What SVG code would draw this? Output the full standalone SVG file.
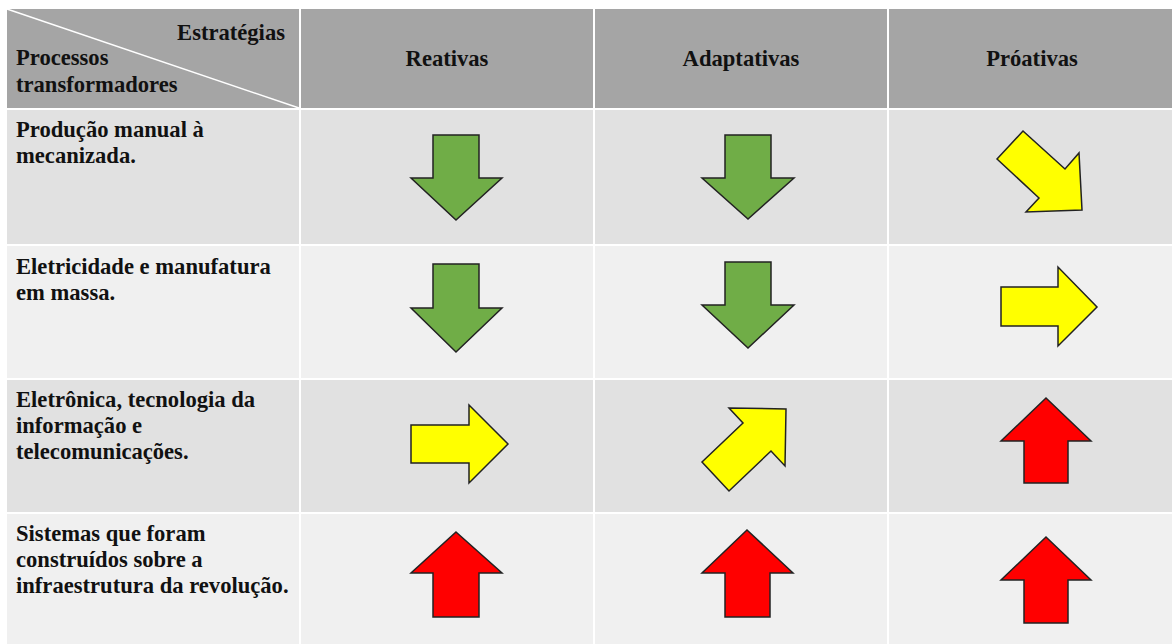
<svg xmlns="http://www.w3.org/2000/svg" width="1172" height="644" viewBox="0 0 1172 644">
<style>
text{font-family:"Liberation Serif","Times New Roman",serif;font-weight:bold;font-size:22.6px;fill:#111}
.hd{fill:#a5a5a5}.d{fill:#e1e1e1}.l{fill:#f0f0f0}
.c{text-anchor:middle}
.ar{stroke:#222;stroke-width:1.5;stroke-linejoin:miter}
.g{fill:#70ad47}.y{fill:#ffff00}.r{fill:#ff0000}
</style>
<rect width="1172" height="644" fill="#ffffff"/>
<g id="header">
<rect class="hd" x="7" y="9" width="292" height="99"/>
<rect class="hd" x="301" y="9" width="292" height="99"/>
<rect class="hd" x="595" y="9" width="292" height="99"/>
<rect class="hd" x="889" y="9" width="283" height="99"/>
<line x1="7" y1="9" x2="299" y2="108" stroke="#ffffff" stroke-width="1.5"/>
<text x="285" y="40" text-anchor="end">Estratégias</text>
<text x="16" y="65">Processos</text>
<text x="16" y="92">transformadores</text>
<text class="c" x="447" y="66">Reativas</text>
<text class="c" x="741" y="66">Adaptativas</text>
<text class="c" x="1032" y="66">Próativas</text>
</g>
<g id="row1">
<rect class="d" x="7" y="110" width="292" height="134"/>
<rect class="d" x="301" y="110" width="292" height="134"/>
<rect class="d" x="595" y="110" width="292" height="134"/>
<rect class="d" x="889" y="110" width="283" height="134"/>
<text x="16" y="137">Produção manual à</text>
<text x="16" y="163">mecanizada.</text>
</g>
<g id="row2">
<rect class="l" x="7" y="246" width="292" height="132"/>
<rect class="l" x="301" y="246" width="292" height="132"/>
<rect class="l" x="595" y="246" width="292" height="132"/>
<rect class="l" x="889" y="246" width="283" height="132"/>
<text x="16" y="274">Eletricidade e manufatura</text>
<text x="16" y="300">em massa.</text>
</g>
<g id="row3">
<rect class="d" x="7" y="380" width="292" height="132"/>
<rect class="d" x="301" y="380" width="292" height="132"/>
<rect class="d" x="595" y="380" width="292" height="132"/>
<rect class="d" x="889" y="380" width="283" height="132"/>
<text x="16" y="407">Eletrônica, tecnologia da</text>
<text x="16" y="433">informação e</text>
<text x="16" y="459">telecomunicações.</text>
</g>
<g id="row4">
<rect class="l" x="7" y="514" width="292" height="130"/>
<rect class="l" x="301" y="514" width="292" height="130"/>
<rect class="l" x="595" y="514" width="292" height="130"/>
<rect class="l" x="889" y="514" width="283" height="130"/>
<text x="16" y="541">Sistemas que foram</text>
<text x="16" y="567">construídos sobre a</text>
<text x="16" y="593">infraestrutura da revolução.</text>
</g>
<g id="arrows">
<polygon class="ar g" points="433,135 479,135 479,178 502,178 456,220 411,178 433,178"/>
<polygon class="ar g" points="725,135 771,135 771,178 794,178 748,219 702,178 725,178"/>
<polygon class="ar y" points="997,159 1023,131 1065,169 1079,153 1082,210 1026,212 1039,198"/>
<polygon class="ar g" points="433,264 479,264 479,308 502,308 456,352 411,308 433,308"/>
<polygon class="ar g" points="725,262 771,262 771,305 794,305 748,348 702,305 725,305"/>
<polygon class="ar y" points="1001,287 1058,287 1058,267 1097,307 1058,346 1058,326 1001,326"/>
<polygon class="ar y" points="411,425 469,425 469,405 508,444 469,483 469,463 411,463"/>
<polygon class="ar y" points="729,408 786,409 785,466 771,451 729,491 702,462 743,423"/>
<polygon class="ar r" points="1046,398 1091,441 1068,441 1068,483 1024,483 1024,441 1001,441"/>
<polygon class="ar r" points="456,532 502,573 479,573 479,617 433,617 433,573 411,573"/>
<polygon class="ar r" points="747,530 793,573 770,573 770,617 725,617 725,573 702,573"/>
<polygon class="ar r" points="1046,537 1091,580 1068,580 1068,623 1024,623 1024,580 1001,580"/>
</g>
</svg>
